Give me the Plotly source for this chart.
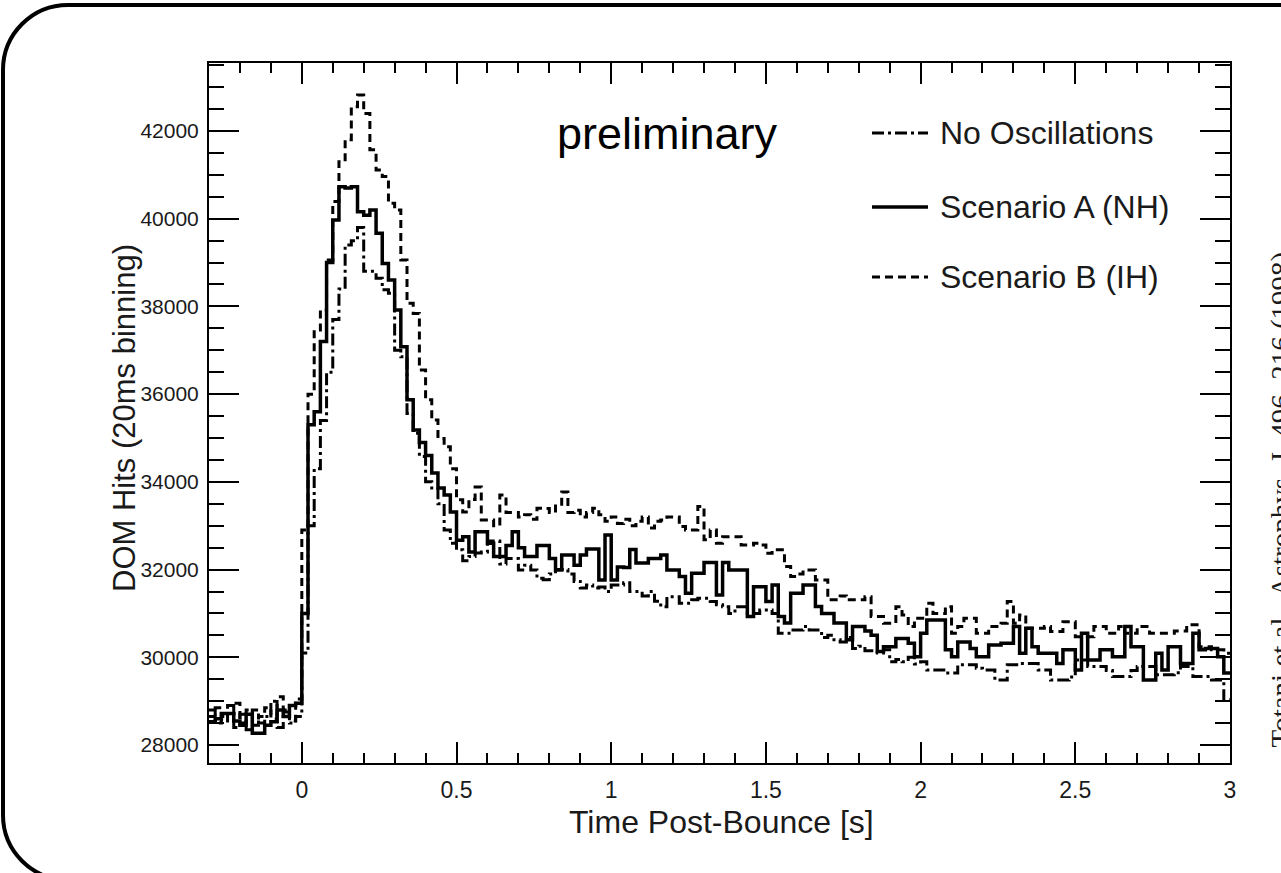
import plotly.graph_objects as go

# ---------------- data (20 ms bins starting at -0.3 s) ----------------
BIN_START = -0.3
BIN_WIDTH = 0.02

no_osc = [28800, 28500, 28650, 28900, 28400, 28700, 28350, 28800, 28500, 28650, 29000, 28400, 28750, 28500, 28650,
          30100, 33000, 34300, 35400, 36500, 37700, 38400, 39400, 39500, 39800, 38800, 38800, 38640, 38380, 38300,
          37000, 36850, 35560, 35110, 34580,
          34000, 33860, 33500, 32900, 32600, 32450, 32200, 32300, 32380, 32400, 32650, 32650, 32130, 32250, 32250,
          31990, 32100, 31990, 31800, 31770, 31900, 32000, 32000, 31900, 31730, 31580, 31650, 31580, 31600, 31500,
          31650, 31650, 31700, 31500, 31500, 31400, 31500, 31280,
          31155, 31380, 31380, 31230, 31230, 31310, 31345, 31345, 31270, 31200, 31155, 31000, 31155, 31155, 31000,
          31000, 31080, 31080, 31000, 30550, 30550, 30620, 30620, 30700, 30620, 30620, 30450, 30500, 30400, 30350,
          30450, 30200, 30250,
          30150, 30150, 30100, 30170, 29900, 29950, 29900, 30000, 29850, 29900, 29710, 29710, 29710, 29640, 29640,
          29830, 29830, 29830, 29750, 29710, 29710, 29480, 29480, 29830, 29830, 29860, 29860, 29860, 29710, 29710,
          29480, 29480, 29480, 29550, 29940, 29940, 29790, 29790, 29790, 29700, 29560, 29560, 29560, 29700, 29790,
          29790, 29790, 29600, 29600, 29600, 29650, 29790, 29790, 29560, 29560, 29560, 29480, 29480, 29030]

scenario_a = [28530, 28600, 28720, 28720, 28550, 28450, 28700, 28270, 28270, 28450, 28530, 28800, 28650, 28900, 28950,
              31000, 35300, 35600, 37200, 39000, 39970, 40730, 40700, 40730, 40160, 40080, 40200, 39670, 38980, 38600,
              37920, 37080, 35870, 35180, 34900, 34600, 34200, 33860, 33700, 33310,
              32670, 32750, 32400, 32860, 32860, 32600, 32300, 32300, 32550, 32860, 32500, 32300, 32300, 32550, 32550,
              32250, 31990, 32330, 32330, 32100, 32330, 32470, 32470, 31760, 32790, 31760, 32060, 32050, 32460, 32150,
              32150, 32250, 32250,
              32330, 31990, 31990, 31840, 31460, 31915, 31915, 32160, 32160, 31420, 32160, 31990, 31990, 31990, 30930,
              31610, 31610, 31270, 31650, 30930, 30780, 31460, 31460, 31650, 31650, 31160, 31000, 31000, 30780, 30780,
              30400, 30700, 30700, 30600,
              30500, 30130, 30240, 30240, 30430, 30430, 30320, 30015, 30550, 30850, 30850, 30850, 30170, 30015, 30350,
              30350, 30200, 30015, 30015, 30280, 30280, 30320, 30320, 30700, 30090, 30660, 30240, 30090, 30090, 30090,
              29860, 30170, 30170, 29710, 30550, 29940, 29940, 30170, 30170, 30015, 30015, 30700, 30240, 30240, 29480,
              29480, 30090, 29710, 30240, 30240, 29860, 29860, 30550, 30170, 30200, 30200, 30015, 29640]

scenario_b = [28650, 28850, 28550, 28700, 28950, 28500, 28800, 28450, 28650, 28850, 28600, 29100, 28800, 28550, 29050,
              32900, 36000, 37460, 37920, 39060, 40390, 41300, 41800, 42550, 42820, 42400, 41570, 41110, 40960, 40350,
              40200, 39060, 38070, 37840, 36550, 35870, 35410, 34990, 34800,
              34300, 33590, 33310, 33600, 33880, 33130, 33130, 33000, 33700, 33300, 33300, 33200, 33250, 33150, 33400,
              33390, 33300, 33450, 33770, 33300, 33350, 33200, 33300, 33400, 33250, 33100, 33200, 33050, 33150, 33000,
              33100, 33200, 32950,
              33100, 33130, 33200, 33200, 32980, 32900, 32900, 33440, 32680, 32900, 32600, 32750, 32750, 32750, 32560,
              32560, 32600, 32560, 32370, 32450, 32450, 32070, 31840, 31900, 31990, 31990, 31760, 31760, 31310, 31310,
              31400, 31310, 31310, 31310,
              31380, 30930, 30930, 30775, 30775, 31155, 30965, 30700, 30890, 30890, 31230, 31000, 31000, 31155, 30550,
              30700, 30890, 30890, 30550, 30550, 30700, 30700, 30775, 31270, 30775, 30965, 30660, 30660, 30660, 30700,
              30590, 30590, 30810, 30810, 30470, 30470, 30470, 30700, 30700, 30550, 30550, 30700, 30550, 30550, 30700,
              30700, 30550, 30550, 30550, 30550, 30600, 30600, 30740, 30740, 30240, 30240, 30170, 30170, 30090]

series_names = ["No Oscillations", "Scenario A (NH)", "Scenario B (IH)"]
x_tick_vals = [0, 0.5, 1, 1.5, 2, 2.5, 3]
x_tick_text = ["0", "0.5", "1", "1.5", "2", "2.5", "3"]
y_tick_vals = [28000, 30000, 32000, 34000, 36000, 38000, 40000, 42000]
y_tick_text = [str(v) for v in y_tick_vals]

# ---------------- layout geometry (pixels) ----------------
W, H = 1281, 873
L, R, T, B = 209, 1230, 63, 763
PW, PH = R - L, B - T


def px(x):
    return (x - L) / PW


def py(y):
    return 1 - (y - T) / PH


def step_xy(vals):
    xs = [BIN_START + BIN_WIDTH * i for i in range(len(vals) + 1)]
    ys = list(vals) + [vals[-1]]
    return xs, ys


styles = [
    dict(color="black", width=3, dash="12px,4px,3px,4px"),
    dict(color="black", width=3.5, dash="solid"),
    dict(color="black", width=3, dash="8px,5px"),
]

fig = go.Figure()
for name, vals, st in zip(series_names, [no_osc, scenario_a, scenario_b], styles):
    xs, ys = step_xy(vals)
    fig.add_trace(go.Scatter(x=xs, y=ys, mode="lines", name=name,
                             line=dict(shape="hv", **st), showlegend=False))

FONT = "Liberation Sans, Arial, Helvetica, sans-serif"
TXT = "#1a1a1a"
fig.update_layout(
    width=W, height=H,
    margin=dict(l=L, r=W - R, t=T, b=H - B),
    paper_bgcolor="white", plot_bgcolor="white",
    font=dict(family=FONT, color=TXT),
    xaxis=dict(range=[-0.3, 3.0], tickvals=x_tick_vals, ticktext=x_tick_text,
               ticks="inside", ticklen=21, tickwidth=2, tickcolor="black",
               minor=dict(dtick=0.1, tick0=0, ticks="inside", ticklen=10, tickwidth=2, tickcolor="black"),
               showline=True, linecolor="black", linewidth=2, mirror="ticks",
               showgrid=False, zeroline=False, tickfont=dict(size=23, family=FONT, color=TXT),
               ticklabelstandoff=5),
    yaxis=dict(range=[27590, 43550], tickvals=y_tick_vals, ticktext=y_tick_text,
               ticks="inside", ticklen=30, tickwidth=2, tickcolor="black",
               minor=dict(dtick=500, tick0=28000, ticks="inside", ticklen=15, tickwidth=2, tickcolor="black"),
               showline=True, linecolor="black", linewidth=2, mirror="ticks",
               showgrid=False, zeroline=False, tickfont=dict(size=21, family=FONT, color=TXT),
               ticklabelstandoff=4),
)

ann = []
shapes = []
# axis titles
ann.append(dict(text="Time Post-Bounce [s]", x=px(721), y=py(822), xref="paper", yref="paper",
                xanchor="center", yanchor="middle",
                showarrow=False, font=dict(size=32, family=FONT, color=TXT)))
ann.append(dict(text="DOM Hits (20ms binning)", x=px(124), y=py(418), xref="paper", yref="paper",
                xanchor="center", yanchor="middle",
                showarrow=False, textangle=-90, font=dict(size=31, family=FONT, color=TXT)))
# "preliminary"
ann.append(dict(text="preliminary", x=px(667), y=py(133), xref="paper", yref="paper",
                xanchor="center", yanchor="middle",
                showarrow=False, font=dict(size=45, family=FONT, color="black")))
# manual legend
rows = [133, 207, 277]
for name, st, ry in zip(series_names, styles, rows):
    shapes.append(dict(type="line", xref="paper", yref="paper", x0=px(872), x1=px(928), y0=py(ry), y1=py(ry),
                       line=dict(color="black", width=st["width"], dash=st["dash"])))
    ann.append(dict(text=name, x=px(938), y=py(ry), xref="paper", yref="paper",
                    xanchor="left", yanchor="middle",
                    showarrow=False, font=dict(size=32, family=FONT, color=TXT)))
# citation (clipped at right edge)
ann.append(dict(text="Totani et al., Astrophys. J. 496, 216 (1998)", x=px(1263), y=py(500),
                xref="paper", yref="paper", xanchor="left", yanchor="middle",
                showarrow=False, textangle=-90, borderpad=0,
                font=dict(size=29, family="Liberation Serif, Times New Roman, serif", color=TXT)))

# rounded outer border
k = 0.5523
r = 65
x0b, y0b, x1b, y1b = 3, 5, 1310, 880


def P(x, y):
    return f"{px(x):.5f},{py(y):.5f}"


path = (f"M {P(x0b, y0b + r)} "
        f"C {P(x0b, y0b + r - k * r)} {P(x0b + r - k * r, y0b)} {P(x0b + r, y0b)} "
        f"L {P(x1b, y0b)} L {P(x1b, y1b)} L {P(x0b + r, y1b)} "
        f"C {P(x0b + r - k * r, y1b)} {P(x0b, y1b - r + k * r)} {P(x0b, y1b - r)} Z")
shapes.append(dict(type="path", xref="paper", yref="paper", path=path,
                   line=dict(color="black", width=4), fillcolor="rgba(0,0,0,0)", layer="above"))

fig.update_layout(annotations=ann, shapes=shapes)
fig.write_html("out.html", config={"displayModeBar": False},
               post_script="document.body.style.margin='0';document.body.style.padding='0';")
